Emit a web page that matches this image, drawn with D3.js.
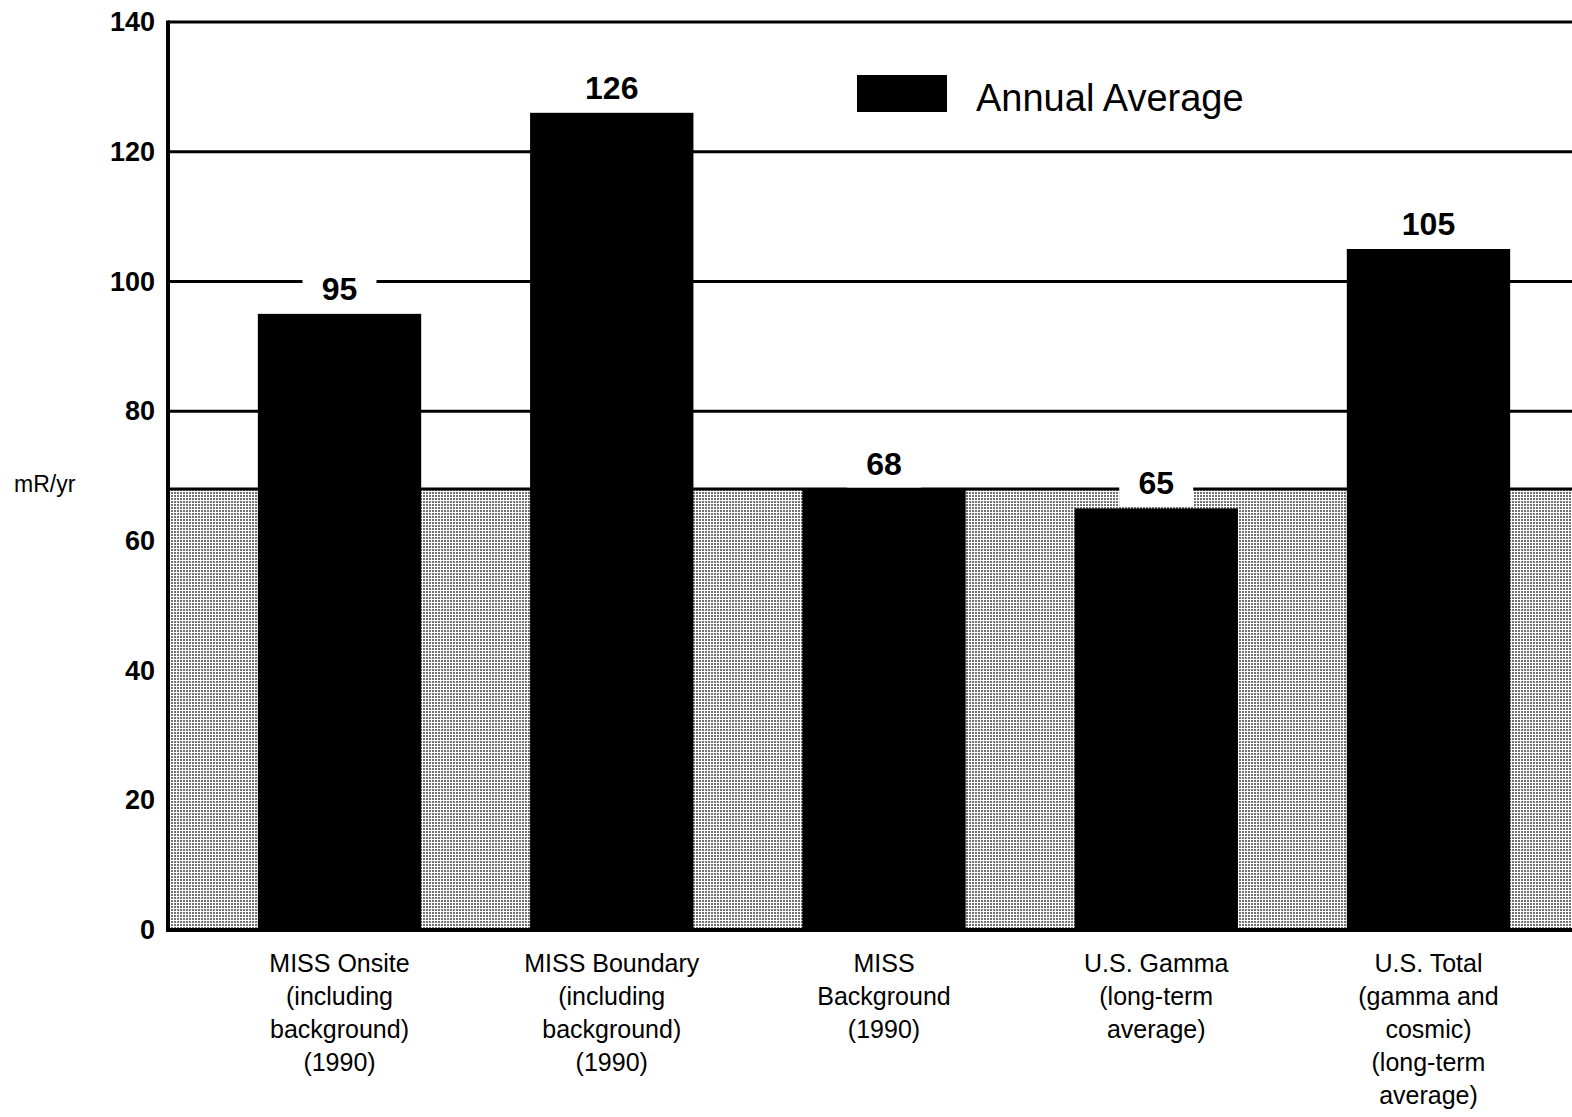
<!DOCTYPE html>
<html>
<head>
<meta charset="utf-8">
<script src="https://cdn.jsdelivr.net/npm/d3@7"></script>
<style>
  html, body { margin: 0; padding: 0; background: #fff; }
  svg { display: block; font-family: "Liberation Sans", Arial, Helvetica, sans-serif; }
</style>
</head>
<body>
<svg id="chart" width="1572" height="1117"></svg>
<script>
// ---- data ----
const categories = ["MISS Onsite", "MISS Boundary", "MISS Background", "U.S. Gamma", "U.S. Total"];
const categoryLines = [
  ["MISS Onsite", "(including", "background)", "(1990)"],
  ["MISS Boundary", "(including", "background)", "(1990)"],
  ["MISS", "Background", "(1990)"],
  ["U.S. Gamma", "(long-term", "average)"],
  ["U.S. Total", "(gamma and", "cosmic)", "(long-term", "average)"]
];
const annualAverage = [95, 126, 68, 65, 105];
const backgroundLevel = 68;
const yTicks = [0, 20, 40, 60, 80, 100, 120, 140];
const seriesName = "Annual Average";
const yAxisLabel = "mR/yr";

// ---- layout ----
const svg = d3.select("#chart");
const W = 1572;
const x0 = 168, yTop = 22, yBottom = 930;

const y = d3.scaleLinear().domain([0, 140]).range([yBottom, yTop]);
const x = d3.scaleBand().domain(categories).range([x0, 1600]).paddingInner(0.4).paddingOuter(0.33);

// stipple pattern
const defs = svg.append("defs");
const pat = defs.append("pattern").attr("id", "stipple")
  .attr("patternUnits", "userSpaceOnUse").attr("width", 3).attr("height", 3);
pat.append("rect").attr("width", 3).attr("height", 3).attr("fill", "#ffffff");
pat.append("rect").attr("width", 2).attr("height", 2).attr("fill", "#707070");

// gridlines (white region)
svg.append("g").selectAll("line").data(yTicks.filter(d => d > 0)).join("line")
  .attr("x1", x0).attr("x2", W)
  .attr("y1", d => y(d)).attr("y2", d => y(d))
  .attr("stroke", "#000").attr("stroke-width", 3);

// background band
svg.append("rect")
  .attr("x", x0).attr("y", y(backgroundLevel))
  .attr("width", W - x0).attr("height", y(0) - y(backgroundLevel))
  .attr("fill", "url(#stipple)");
svg.append("line")
  .attr("x1", x0).attr("x2", W)
  .attr("y1", y(backgroundLevel)).attr("y2", y(backgroundLevel))
  .attr("stroke", "#000").attr("stroke-width", 3);

// bars
svg.append("g").selectAll("rect").data(categories).join("rect")
  .attr("x", d => x(d))
  .attr("y", (d, i) => y(annualAverage[i]))
  .attr("width", x.bandwidth())
  .attr("height", (d, i) => y(0) - y(annualAverage[i]))
  .attr("fill", "#000");

// value labels with white knock-out boxes
const vl = svg.append("g");
categories.forEach((c, i) => {
  const cx = x(c) + x.bandwidth() / 2;
  const top = y(annualAverage[i]);
  const base = top - 14;
  vl.append("rect")
    .attr("x", cx - 37).attr("y", base - 31)
    .attr("width", 74).attr("height", top - (base - 31) - 1.5)
    .attr("fill", "#fff");
  vl.append("text")
    .attr("x", cx).attr("y", base)
    .attr("text-anchor", "middle")
    .attr("font-size", 32).attr("font-weight", "bold")
    .text(annualAverage[i]);
});

// axes
const yAxis = d3.axisLeft(y).tickValues(yTicks).tickSize(0).tickPadding(13);
const gy = svg.append("g").attr("transform", `translate(${x0},0)`).call(yAxis);
gy.select(".domain").remove();
gy.selectAll("text").attr("font-size", 27).attr("font-weight", "bold")
  .attr("font-family", "'Liberation Sans', Arial, sans-serif").attr("fill", "#000");

svg.append("line").attr("x1", x0).attr("x2", x0).attr("y1", yTop - 1.5).attr("y2", yBottom + 2)
  .attr("stroke", "#000").attr("stroke-width", 4);
svg.append("line").attr("x1", x0 - 2).attr("x2", W).attr("y1", yBottom).attr("y2", yBottom)
  .attr("stroke", "#000").attr("stroke-width", 4);

// category labels
const cl = svg.append("g");
categories.forEach((c, i) => {
  const cx = x(c) + x.bandwidth() / 2;
  const t = cl.append("text").attr("text-anchor", "middle").attr("font-size", 25);
  categoryLines[i].forEach((line, j) => {
    t.append("tspan").attr("x", cx).attr("y", 972 + j * 33).text(line);
  });
});

// y-axis unit label
svg.append("text").attr("x", 14).attr("y", 492)
  .attr("font-size", 23).text(yAxisLabel);

// legend
svg.append("rect").attr("x", 857).attr("y", 75).attr("width", 90).attr("height", 37).attr("fill", "#000");
svg.append("text").attr("x", 976).attr("y", 111).attr("font-size", 38).text(seriesName);
</script>
</body>
</html>
